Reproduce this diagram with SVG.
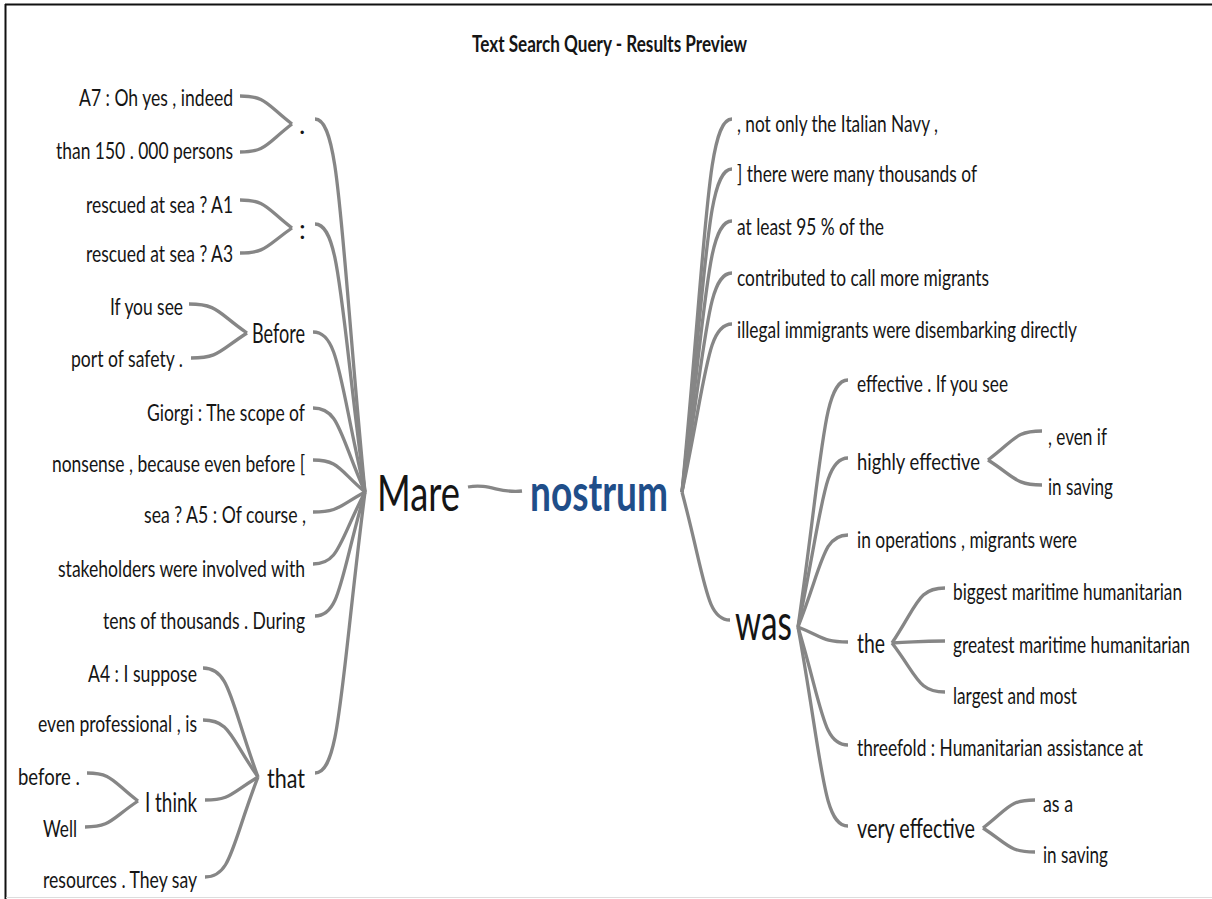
<svg xmlns="http://www.w3.org/2000/svg" width="1212" height="899" viewBox="0 0 1212 899">
<style>
.t{font-family:Lato,"Open Sans","Liberation Sans",sans-serif;fill:#151515}
.leaf{font-size:23px}
.mid{font-size:27px}
.big{font-size:51px}
.e{text-anchor:end}
.c{fill:none;stroke:#868686;stroke-width:3.3}
.title{font-size:22px;font-weight:bold}
.nost{font-weight:bold;fill:#1f4e89}
</style>
<rect width="1212" height="899" fill="#fff"/>
<line x1="5" y1="4.5" x2="1212" y2="4.5" stroke="#111" stroke-width="2"/>
<line x1="5.5" y1="4" x2="5.5" y2="899" stroke="#111" stroke-width="2"/>
<line x1="6" y1="897.5" x2="1212" y2="897.5" stroke="#ddd" stroke-width="1"/>
<g id="title"><text class="t title" x="472" y="52" textLength="275" lengthAdjust="spacingAndGlyphs">Text Search Query - Results Preview</text></g>
<g id="connectors">
<path class="c" d="M240,96 C266,96 266,104 292,124"/>
<path class="c" d="M240,152 C266,152 266,144 292,124"/>
<path class="c" d="M240,200 C266,200 266,208 292,228"/>
<path class="c" d="M240,253 C266,253 266,246 292,228"/>
<path class="c" d="M189,304 C218,304 218,313 247,333"/>
<path class="c" d="M191,358 C219,358 219,351 247,333"/>
<path class="c" d="M315,119 C340,119 340,231 365,492"/>
<path class="c" d="M315,224 C340,224 340,304 365,492"/>
<path class="c" d="M313,332 C339,332 339,380 365,492"/>
<path class="c" d="M313,408 C339,408 339,433 365,492"/>
<path class="c" d="M313,460 C339,460 339,470 365,492"/>
<path class="c" d="M313,512 C339,512 339,506 365,492"/>
<path class="c" d="M313,564 C339,564 339,542 365,492"/>
<path class="c" d="M315,616 C340,616 340,579 365,492"/>
<path class="c" d="M315,773 C340,773 340,689 365,492"/>
<path class="c" d="M203,668 C230,668 230,701 258,777"/>
<path class="c" d="M203,720 C230,720 230,737 258,777"/>
<path class="c" d="M205,800 C231,800 231,793 258,777"/>
<path class="c" d="M205,877 C231,877 231,847 258,777"/>
<path class="c" d="M87,773 C112,773 112,781 138,801"/>
<path class="c" d="M85,827 C111,827 111,819 138,801"/>
<path class="c" d="M468,487 C490,483 500,494 522,491"/>
<path class="c" d="M732,119 C707,119 707,231 682,492"/>
<path class="c" d="M732,169 C707,169 707,266 682,492"/>
<path class="c" d="M732,221 C707,221 707,302 682,492"/>
<path class="c" d="M732,273 C707,273 707,339 682,492"/>
<path class="c" d="M732,324 C707,324 707,374 682,492"/>
<path class="c" d="M730,620 C706,620 706,582 682,492"/>
<path class="c" d="M848,380 C823,380 823,454 798,627"/>
<path class="c" d="M848,458 C823,458 823,509 798,627"/>
<path class="c" d="M848,535 C823,535 823,563 798,627"/>
<path class="c" d="M848,642 C823,642 823,637 798,627"/>
<path class="c" d="M848,745 C823,745 823,710 798,627"/>
<path class="c" d="M848,826 C823,826 823,766 798,627"/>
<path class="c" d="M1042,431 C1015,431 1015,440 988,460"/>
<path class="c" d="M1042,485 C1015,485 1015,477 988,460"/>
<path class="c" d="M945,588 C918,588 918,604 892,643"/>
<path class="c" d="M945,641 C918,641 918,642 892,643"/>
<path class="c" d="M945,692 C918,692 918,677 892,643"/>
<path class="c" d="M1035,800 C1009,800 1009,808 983,828"/>
<path class="c" d="M1035,852 C1009,852 1009,845 983,828"/>
</g>
<g id="n-a7"><text class="t leaf e" x="233" y="106" textLength="154" lengthAdjust="spacingAndGlyphs">A7 : Oh yes , indeed</text></g>
<g id="n-than"><text class="t leaf e" x="233" y="159" textLength="177" lengthAdjust="spacingAndGlyphs">than 150 . 000 persons</text></g>
<g id="n-a1"><text class="t leaf e" x="233" y="213" textLength="147" lengthAdjust="spacingAndGlyphs">rescued at sea ? A1</text></g>
<g id="n-a3"><text class="t leaf e" x="233" y="262" textLength="147" lengthAdjust="spacingAndGlyphs">rescued at sea ? A3</text></g>
<g id="n-dot"><text class="t mid" x="299" y="134">.</text></g>
<g id="n-colon"><text class="t mid" x="299" y="239">:</text></g>
<g id="n-ifyousee"><text class="t leaf e" x="183" y="315" textLength="73" lengthAdjust="spacingAndGlyphs">If you see</text></g>
<g id="n-port"><text class="t leaf e" x="183" y="367" textLength="112" lengthAdjust="spacingAndGlyphs">port of safety .</text></g>
<g id="n-before"><text class="t mid" x="252" y="343" textLength="53" lengthAdjust="spacingAndGlyphs">Before</text></g>
<g id="n-giorgi"><text class="t leaf e" x="305" y="421" textLength="158" lengthAdjust="spacingAndGlyphs">Giorgi : The scope of</text></g>
<g id="n-nonsense"><text class="t leaf e" x="305" y="472" textLength="253" lengthAdjust="spacingAndGlyphs">nonsense , because even before [</text></g>
<g id="n-sea"><text class="t leaf e" x="306" y="523" textLength="162" lengthAdjust="spacingAndGlyphs">sea ? A5 : Of course ,</text></g>
<g id="n-stake"><text class="t leaf e" x="305" y="577" textLength="247" lengthAdjust="spacingAndGlyphs">stakeholders were involved with</text></g>
<g id="n-tens"><text class="t leaf e" x="305" y="629" textLength="202" lengthAdjust="spacingAndGlyphs">tens of thousands . During</text></g>
<g id="n-a4"><text class="t leaf e" x="197" y="682" textLength="109" lengthAdjust="spacingAndGlyphs">A4 : I suppose</text></g>
<g id="n-evenprof"><text class="t leaf e" x="197" y="732" textLength="159" lengthAdjust="spacingAndGlyphs">even professional , is</text></g>
<g id="n-beforedot"><text class="t leaf" x="18" y="785" textLength="62" lengthAdjust="spacingAndGlyphs">before .</text></g>
<g id="n-well"><text class="t leaf" x="43" y="837" textLength="34" lengthAdjust="spacingAndGlyphs">Well</text></g>
<g id="n-ithink"><text class="t mid" x="145" y="812" textLength="52" lengthAdjust="spacingAndGlyphs">I think</text></g>
<g id="n-resources"><text class="t leaf e" x="197" y="888" textLength="154" lengthAdjust="spacingAndGlyphs">resources . They say</text></g>
<g id="n-that"><text class="t mid" x="267" y="788" textLength="38" lengthAdjust="spacingAndGlyphs">that</text></g>
<g id="n-mare"><text class="t big" x="377" y="511" textLength="83" lengthAdjust="spacingAndGlyphs">Mare</text></g>
<g id="n-nostrum"><text class="t big nost" x="530" y="511" textLength="138" lengthAdjust="spacingAndGlyphs">nostrum</text></g>
<g id="n-notonly"><text class="t leaf" x="737" y="132" textLength="201" lengthAdjust="spacingAndGlyphs">, not only the Italian Navy ,</text></g>
<g id="n-there"><text class="t leaf" x="737" y="182" textLength="240" lengthAdjust="spacingAndGlyphs">] there were many thousands of</text></g>
<g id="n-atleast"><text class="t leaf" x="737" y="235" textLength="147" lengthAdjust="spacingAndGlyphs">at least 95 % of the</text></g>
<g id="n-contrib"><text class="t leaf" x="737" y="286" textLength="252" lengthAdjust="spacingAndGlyphs">contributed to call more migrants</text></g>
<g id="n-illegal"><text class="t leaf" x="737" y="338" textLength="340" lengthAdjust="spacingAndGlyphs">illegal immigrants were disembarking directly</text></g>
<g id="n-was"><text class="t big" x="735" y="640" textLength="57" lengthAdjust="spacingAndGlyphs">was</text></g>
<g id="n-effective"><text class="t leaf" x="857" y="392" textLength="151" lengthAdjust="spacingAndGlyphs">effective . If you see</text></g>
<g id="n-highly"><text class="t leaf" x="857" y="470" textLength="123" lengthAdjust="spacingAndGlyphs">highly effective</text></g>
<g id="n-evenif"><text class="t leaf" x="1048" y="445" textLength="59" lengthAdjust="spacingAndGlyphs">, even if</text></g>
<g id="n-insaving1"><text class="t leaf" x="1048" y="495" textLength="65" lengthAdjust="spacingAndGlyphs">in saving</text></g>
<g id="n-operations"><text class="t leaf" x="857" y="548" textLength="220" lengthAdjust="spacingAndGlyphs">in operations , migrants were</text></g>
<g id="n-the"><text class="t mid" x="857" y="653" textLength="28" lengthAdjust="spacingAndGlyphs">the</text></g>
<g id="n-biggest"><text class="t leaf" x="953" y="600" textLength="229" lengthAdjust="spacingAndGlyphs">biggest maritime humanitarian</text></g>
<g id="n-greatest"><text class="t leaf" x="953" y="653" textLength="237" lengthAdjust="spacingAndGlyphs">greatest maritime humanitarian</text></g>
<g id="n-largest"><text class="t leaf" x="953" y="704" textLength="124" lengthAdjust="spacingAndGlyphs">largest and most</text></g>
<g id="n-threefold"><text class="t leaf" x="857" y="756" textLength="286" lengthAdjust="spacingAndGlyphs">threefold : Humanitarian assistance at</text></g>
<g id="n-very"><text class="t mid" x="857" y="838" textLength="118" lengthAdjust="spacingAndGlyphs">very effective</text></g>
<g id="n-asa"><text class="t leaf" x="1043" y="812" textLength="30" lengthAdjust="spacingAndGlyphs">as a</text></g>
<g id="n-insaving2"><text class="t leaf" x="1043" y="863" textLength="65" lengthAdjust="spacingAndGlyphs">in saving</text></g>
</svg>
